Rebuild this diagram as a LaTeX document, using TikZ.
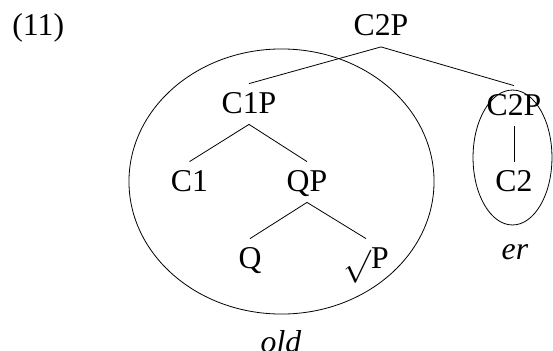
\documentclass[tikz,border=0pt]{standalone}
\usepackage{fontspec}
\setmainfont{Liberation Serif}
\usetikzlibrary{positioning}

\begin{document}
\begin{tikzpicture}[x=0.75pt,y=-0.75pt, line width=0.6pt,
		every node/.style={font=\fontsize{23.8pt}{28pt}\selectfont},
		lbl/.style={text height=15.75pt,text depth=2.25pt,inner xsep=2pt,inner ysep=6pt,anchor=base}]
	\useasboundingbox (0,0) rectangle (553,350);
	% Numero esempio
	\node[anchor=base west,inner sep=0pt] (num) at (12,35.5) {(11)};
	
	% Albero
	\node[lbl] (top) at (381,35.5) {C2P};
	\node[lbl] (c1p) at (249,113) {C1P};
	\node[lbl] (c1) at (189.5,191) {C1};
	\node[lbl] (qp) at (307,191) {QP};
	\node[lbl] (q) at (250,268) {Q};
	\node[lbl] (rootp) at (366,268) {$\sqrt{}$P};
	\node[lbl] (c2p) at (514,115) {C2P};
	\node[lbl] (c2) at (514,191) {C2};
	
	\draw (top.south) -- (c1p.north);
	\draw (top.south) -- (c2p.north);
	\draw (c1p.south) -- (c1.north);
	\draw (c1p.south) -- (qp.north);
	\draw (qp.south) -- (q.north);
	\draw (qp.south) -- (rootp.north);
	\draw (c2p.south) -- (c2.north);
	
	% Ellissi
	\draw (281.5,181.5) ellipse [x radius=114.4pt, y radius=99.4pt];
	\draw (512.5,157.5) ellipse [x radius=29.6pt, y radius=50.6pt];
	\node[anchor=base] (old) at (281,352) {\textit{old}};
	\node[anchor=base] (er) at (515,259) {\textit{er}};
\end{tikzpicture}
\end{document}
